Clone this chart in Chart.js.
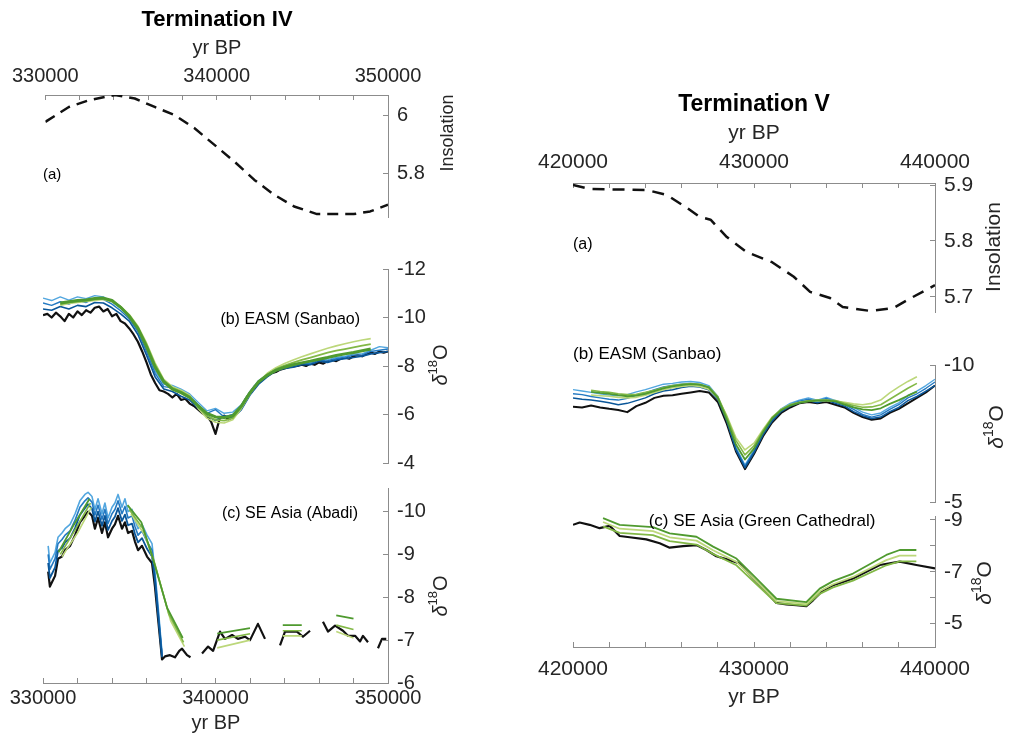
<!DOCTYPE html>
<html>
<head>
<meta charset="utf-8">
<title>Termination IV and V</title>
<script src="https://cdn.jsdelivr.net/npm/chart.js@4.4.1/dist/chart.umd.min.js"></script>
<style>
  html, body { margin: 0; padding: 0; background: #ffffff; }
  #wrap { position: relative; width: 1013px; height: 744px; overflow: hidden; background: #ffffff; }
  #wrap canvas { position: absolute; left: 0; top: 0; }
</style>
</head>
<body>
<div id="wrap">
  <canvas id="t4a" width="1013" height="744"></canvas>
  <canvas id="t4b" width="1013" height="744"></canvas>
  <canvas id="t4c" width="1013" height="744"></canvas>
  <canvas id="t5a" width="1013" height="744"></canvas>
  <canvas id="t5b" width="1013" height="744"></canvas>
  <canvas id="t5c" width="1013" height="744"></canvas>
</div>
<script>
// ---------------- Termination IV (330-350 kyr BP) ----------------
const t4InsolYears = [330000, 331370, 332530, 334060, 335220, 336380, 337550, 338710, 339870, 341030, 342200, 343360, 344520, 345860, 347990, 348960, 350000];
const t4Insol      = [5.977, 6.028, 6.051, 6.069, 6.057, 6.028, 6.0, 5.955, 5.898, 5.841, 5.778, 5.727, 5.687, 5.661, 5.661, 5.670, 5.693];

const t4Years = [330000, 330500, 331000, 331500, 332000, 332500, 333000, 333500, 334000, 334500,
                 335000, 335500, 336000, 336500, 337000, 337500, 338000, 338500, 339000, 339500,
                 340000, 340500, 341000, 341500, 342000, 342500, 343000, 343500, 344000, 344500,
                 345000, 345500, 346000, 346500, 347000, 347500, 348000, 348500, 349000, 349500, 350000];

const t4SanbaoObsYears = [330000, 330250, 330500, 330750, 331000, 331250, 331500, 331750, 332000, 332250,
                          332500, 332750, 333000, 333250, 333500, 333750, 334000, 334250, 334500, 334750,
                          335000, 335250, 335500, 335750, 336000, 336250, 336500, 336750, 337000, 337250,
                          337500, 337750, 338000, 338250, 338500, 338750, 339000, 339250, 339500, 339750,
                          340000, 340250, 340500, 340750, 341000, 341250, 341500, 341750, 342000, 342250,
                          342500, 342750, 343000, 343250, 343500, 343750, 344000, 344250, 344500, 344750,
                          345000, 345250, 345500, 345750, 346000, 346250, 346500, 346750, 347000, 347250,
                          347500, 347750, 348000, 348250, 348500, 348750, 349000, 349250, 349500, 349750, 350000];
const t4SanbaoObs = [-10.1, -10.15, -10.0, -10.2, -10.05, -9.85, -10.15, -10.0, -10.25, -10.1,
                     -10.3, -10.2, -10.4, -10.45, -10.25, -10.35, -10.05, -10.15, -9.85, -9.75,
                     -9.55, -9.3, -9.0, -8.6, -8.15, -7.65, -7.3, -7.0, -6.95, -6.85,
                     -6.7, -6.85, -6.6, -6.65, -6.45, -6.35, -6.2, -6.05, -5.95, -5.7,
                     -5.2, -5.85, -5.95, -5.8, -5.9, -6.1, -6.35, -6.65, -6.9, -7.15,
                     -7.3, -7.5, -7.6, -7.7, -7.75, -7.85, -7.9, -7.95, -7.98, -8.0,
                     -8.05, -8.0, -8.1, -8.05, -8.15, -8.1, -8.2, -8.25, -8.2, -8.3,
                     -8.35, -8.3, -8.4, -8.45, -8.4, -8.5, -8.55, -8.5, -8.6, -8.55, -8.6];

const t4SanbaoBlue1 = [-10.35, -10.3, -10.45, -10.35, -10.5, -10.45, -10.62, -10.6, -10.4, -10.15,
                       -9.85, -9.3, -8.45, -7.55, -7.05, -6.95, -6.75, -6.6, -6.25, -5.95,
                       -5.75, -5.95, -5.85, -6.2, -6.8, -7.25, -7.55, -7.8, -7.9, -7.95,
                       -8.05, -8.05, -8.2, -8.15, -8.25, -8.3, -8.35, -8.4, -8.5, -8.55, -8.6];
const t4SanbaoBlue2 = [-10.6, -10.5, -10.65, -10.55, -10.7, -10.62, -10.78, -10.75, -10.55, -10.28,
                       -9.95, -9.42, -8.6, -7.7, -7.15, -7.1, -6.95, -6.75, -6.4, -6.05,
                       -6.2, -5.9, -6.0, -6.35, -6.9, -7.35, -7.6, -7.85, -7.95, -8.0,
                       -8.1, -8.1, -8.25, -8.2, -8.3, -8.35, -8.45, -8.45, -8.6, -8.65, -8.7];
const t4SanbaoBlue3 = [-10.8, -10.7, -10.85, -10.72, -10.85, -10.78, -10.9, -10.85, -10.65, -10.38,
                       -10.02, -9.5, -8.7, -7.8, -7.25, -7.2, -7.05, -6.85, -6.5, -6.15,
                       -6.25, -6.05, -6.1, -6.4, -6.95, -7.4, -7.65, -7.9, -7.98, -8.05,
                       -8.12, -8.15, -8.3, -8.25, -8.35, -8.4, -8.5, -8.5, -8.65, -8.8, -8.75];

const t4SanbaoGreen1 = [null, null, -10.6, -10.65, -10.7, -10.72, -10.78, -10.8, -10.7, -10.42,
                        -10.05, -9.55, -8.8, -7.95, -7.35, -7.05, -6.9, -6.7, -6.35, -6.05,
                        -5.9, -5.88, -5.95, -6.35, -6.9, -7.35, -7.62, -7.82, -7.95, -8.05,
                        -8.13, -8.2, -8.28, -8.35, -8.43, -8.5, -8.56, -8.63, -8.7, null, null];
const t4SanbaoGreen2 = [null, null, -10.55, -10.62, -10.66, -10.7, -10.75, -10.78, -10.68, -10.45,
                        -10.1, -9.6, -8.9, -8.05, -7.4, -7.1, -6.95, -6.75, -6.3, -5.95,
                        -5.78, -5.75, -5.85, -6.3, -6.88, -7.35, -7.65, -7.87, -8.02, -8.14,
                        -8.25, -8.35, -8.45, -8.55, -8.63, -8.7, -8.77, -8.84, -8.9, null, null];
const t4SanbaoGreen3 = [null, null, -10.5, -10.58, -10.62, -10.66, -10.7, -10.74, -10.65, -10.45,
                        -10.12, -9.65, -8.95, -8.12, -7.45, -7.15, -7.0, -6.8, -6.25, -5.85,
                        -5.68, -5.65, -5.78, -6.25, -6.85, -7.35, -7.7, -7.93, -8.1, -8.25,
                        -8.38, -8.5, -8.62, -8.73, -8.83, -8.92, -9.0, -9.07, -9.13, null, null];

const t4AbadiObsYears = [330300, 330400, 330700, 330870, 331100, 331280, 331570, 331860, 332140, 332430,
                         332610, 332840, 333010, 333190, 333420, 333590, 333770, 334000, 334170, 334350,
                         334580, 334750, 334930, 335160, 335330, 335510, 335740, 336030, 336320, 336490,
                         336670, 336900, 337070, 337360, 337650, 337900, 338060, 338350, 338550, 338900,
                         339220, 339570, 339860, 340260, 340550, 340960, 341300, 341710, 342000, 342460, 342870, 343300,
                         343740, 344030, 344720, 345070, 345480, 345850,
                         346230, 346520, 346930, 347390, 347680, 348090, 348380, 348550, 348840, 349100,
                         349420, 349650, 349900];
const t4AbadiObs = [-8.6, -8.25, -8.5, -8.9, -8.95, -9.1, -9.2, -9.45, -9.75, -9.9,
                    -10.0, -9.9, -9.6, -9.85, -9.5, -9.75, -9.4, -9.6, -9.7, -9.9,
                    -9.6, -9.75, -9.5, -9.55, -9.3, -9.1, -9.2, -8.95, -8.8, -8.25,
                    -7.5, -6.55, -6.62, -6.65, -6.6, -6.75, -6.8, -6.65, -6.6, null,
                    -6.69, -6.85, -6.75, -7.2, -7.03, -7.12, -7.03, -7.08, -7.0, -7.38, -7.03, null,
                    -6.88, -7.2, -7.2, -7.08, -7.22, null,
                    -7.43, -7.2, -7.34, -7.22, -7.1, -7.1, -6.97, -7.1, -6.95, null,
                    -6.81, -7.03, -7.03];

const t4AbadiBlueYears = [330300, 330400, 330700, 330870, 331100, 331280, 331570, 331860, 332140, 332430,
                          332610, 332840, 333010, 333190, 333420, 333590, 333770, 334000, 334170, 334350,
                          334580, 334750, 334930, 335160, 335330, 335510, 335740, 336030, 336320, 336490,
                          336670, 336900];
const t4AbadiBlue1 = [-8.8, -8.45, -8.7, -9.08, -9.15, -9.28, -9.38, -9.62, -9.92, -10.08,
                      -10.17, -10.07, -9.77, -10.0, -9.67, -9.9, -9.57, -9.78, -9.88, -10.08,
                      -9.78, -9.93, -9.68, -9.72, -9.48, -9.28, -9.38, -9.13, -8.95, -8.4, -7.6, -6.6];
const t4AbadiBlue2 = [-9.0, -8.65, -8.9, -9.25, -9.35, -9.45, -9.55, -9.8, -10.1, -10.25,
                      -10.32, -10.22, -9.92, -10.15, -9.82, -10.05, -9.72, -9.95, -10.05, -10.25,
                      -9.95, -10.12, -9.85, -9.9, -9.65, -9.45, -9.55, -9.3, -9.1, -8.5, -7.7, -6.65];
const t4AbadiBlue3 = [-9.2, -8.8, -9.05, -9.4, -9.5, -9.6, -9.7, -9.95, -10.25, -10.4,
                      -10.45, -10.35, -10.05, -10.3, -9.95, -10.2, -9.85, -10.1, -10.2, -10.4,
                      -10.1, -10.3, -10.0, -10.05, -9.8, -9.6, -9.7, -9.45, -9.25, -8.6, -7.8, -6.7];

const t4AbadiGreen1Years = [330900, 331800, 332700, 333000, 334900, 335700, 336300, 337200, 338100, 339000,
                            340100, 342000, 343000, 343900, 345000, 346000, 347000, 348000];
const t4AbadiGreen1 = [-9.05, -9.7, -10.3, null, -10.15, -9.75, -9.0, -7.75, -7.05, null,
                       -7.15, -7.28, null, -7.35, -7.35, null, -7.58, -7.5];
const t4AbadiGreen2Years = [331000, 331900, 332750, 333000, 335000, 335800, 336400, 337300, 338150, 339000,
                            340100, 342000, 343000, 343900, 345000, 346000, 347000, 348000];
const t4AbadiGreen2 = [-9.0, -9.6, -10.2, null, -10.05, -9.6, -8.9, -7.6, -6.95, null,
                       -7.0, -7.15, null, -7.22, -7.22, null, -7.35, -7.25];
const t4AbadiGreen3Years = [331100, 332000, 332800, 333000, 335100, 335900, 336500, 337400, 338200, 339000,
                            340100, 342000, 343000, 343900, 345000, 346000, 347000, 348000];
const t4AbadiGreen3 = [-8.95, -9.5, -10.1, null, -9.95, -9.45, -8.75, -7.45, -6.85, null,
                       -6.82, -7.0, null, -7.1, -7.1, null, -7.2, -7.05];

// ---------------- Termination V (420-440 kyr BP) ----------------
const t5InsolYears = [420000, 420900, 424100, 425200, 426300, 427000, 427600, 428500, 429600, 431000,
                      432200, 433100, 434200, 434900, 436400, 437700, 438500, 440000];
const t5Insol      = [5.9, 5.893, 5.891, 5.882, 5.859, 5.843, 5.838, 5.807, 5.78, 5.762,
                      5.736, 5.709, 5.698, 5.682, 5.675, 5.68, 5.695, 5.721];

const t5Years = [420000, 420500, 421000, 421500, 422000, 422500, 423000, 423500, 424000, 424500,
                 425000, 425500, 426000, 426500, 427000, 427500, 428000, 428500, 429000, 429500,
                 430000, 430500, 431000, 431500, 432000, 432500, 433000, 433500, 434000, 434500,
                 435000, 435500, 436000, 436500, 437000, 437500, 438000, 438500, 439000, 439500, 440000];

const t5SanbaoObs = [-8.48, -8.45, -8.52, -8.45, -8.4, -8.36, -8.28, -8.5, -8.62, -8.8,
                     -8.88, -8.9, -8.95, -9.0, -9.05, -9.0, -8.65, -7.85, -6.85, -6.2,
                     -6.75, -7.4, -7.9, -8.25, -8.45, -8.6, -8.65, -8.6, -8.65, -8.55,
                     -8.45, -8.25, -8.1, -8.0, -8.05, -8.25, -8.4, -8.6, -8.8, -9.0, -9.25];
const t5SanbaoBlue1 = [-8.8, -8.75, -8.72, -8.68, -8.62, -8.55, -8.6, -8.7, -8.8, -8.95,
                       -9.05, -9.1, -9.18, -9.22, -9.2, -9.1, -8.75, -7.95, -6.9, -6.25,
                       -6.8, -7.45, -7.95, -8.3, -8.5, -8.62, -8.7, -8.62, -8.72, -8.6,
                       -8.5, -8.3, -8.15, -8.05, -8.1, -8.3, -8.45, -8.7, -8.85, -9.05, -9.25];
const t5SanbaoBlue2 = [-8.95, -8.92, -8.85, -8.8, -8.75, -8.72, -8.78, -8.9, -8.98, -9.1,
                       -9.2, -9.25, -9.3, -9.32, -9.28, -9.18, -8.8, -8.0, -6.95, -6.3,
                       -6.85, -7.5, -8.0, -8.35, -8.55, -8.68, -8.75, -8.68, -8.78, -8.65,
                       -8.55, -8.38, -8.2, -8.1, -8.18, -8.38, -8.55, -8.8, -8.95, -9.15, -9.38];
const t5SanbaoBlue3 = [-9.1, -9.05, -9.0, -8.95, -8.9, -8.88, -8.92, -9.02, -9.1, -9.2,
                       -9.3, -9.33, -9.38, -9.4, -9.36, -9.25, -8.85, -8.05, -7.0, -6.35,
                       -6.9, -7.55, -8.05, -8.4, -8.6, -8.72, -8.8, -8.72, -8.82, -8.7,
                       -8.6, -8.45, -8.28, -8.18, -8.25, -8.45, -8.62, -8.88, -9.05, -9.25, -9.48];
const t5SanbaoGreen1 = [null, null, -9.02, -8.98, -8.95, -8.9, -8.86, -8.88, -8.95, -9.05,
                        -9.15, -9.22, -9.27, -9.3, -9.28, -9.18, -8.8, -8.0, -7.1, -6.55,
                        -6.95, -7.55, -8.05, -8.35, -8.52, -8.62, -8.67, -8.7, -8.7, -8.67,
                        -8.55, -8.45, -8.38, -8.35, -8.42, -8.58, -8.72, -8.88, -9.03, null, null];
const t5SanbaoGreen2 = [null, null, -9.08, -9.03, -9.0, -8.95, -8.92, -8.93, -9.0, -9.08,
                        -9.18, -9.25, -9.3, -9.32, -9.3, -9.2, -8.85, -8.1, -7.25, -6.72,
                        -7.05, -7.6, -8.08, -8.38, -8.55, -8.64, -8.69, -8.72, -8.72, -8.7,
                        -8.6, -8.52, -8.46, -8.47, -8.55, -8.75, -8.95, -9.15, -9.33, null, null];
const t5SanbaoGreen3 = [null, null, -8.9, -8.88, -8.86, -8.82, -8.8, -8.82, -8.9, -9.0,
                        -9.1, -9.17, -9.22, -9.25, -9.22, -9.12, -8.8, -8.15, -7.35, -6.9,
                        -7.15, -7.65, -8.1, -8.38, -8.55, -8.63, -8.68, -8.7, -8.7, -8.68,
                        -8.64, -8.58, -8.55, -8.6, -8.72, -8.98, -9.2, -9.4, -9.57, null, null];

const t5CathedralObsYears = [420000, 420370, 420920, 421470, 422030, 422580, 423130, 424050, 424790, 425340,
                             426080, 426820, 427370, 427920, 428660, 429210, 429950, 430680, 431240, 431790,
                             432340, 432890, 433260, 433820, 434370, 434920, 435470, 436210, 436950, 438050,
                             438970, 440000];
const t5CathedralObs = [-8.81, -8.9, -8.81, -8.68, -8.77, -8.38, -8.33, -8.25, -8.1, -7.93,
                        -7.99, -8.03, -7.84, -7.6, -7.45, -7.32, -6.74, -6.22, -5.8, -5.74,
                        -5.71, -5.67, -5.9, -6.29, -6.48, -6.61, -6.74, -7.0, -7.26, -7.39,
                        -7.26, -7.13];
const t5CathedralModelYears = [421660, 422580, 424420, 425340, 426820, 427740, 429030, 429950,
                               431240, 432890, 433630, 434370, 435470, 437310, 438050, 438970];
const t5CathedralGreen1 = [-9.07, -8.81, -8.72, -8.48, -8.35, -7.97, -7.51, -6.87,
                           -5.96, -5.83, -6.35, -6.64, -6.93, -7.65, -7.84, -7.84];
const t5CathedralGreen2 = [-8.92, -8.66, -8.57, -8.33, -8.2, -7.83, -7.38, -6.76,
                           -5.87, -5.76, -6.25, -6.52, -6.8, -7.45, -7.62, -7.62];
const t5CathedralGreen3 = [-8.75, -8.5, -8.41, -8.18, -8.05, -7.69, -7.25, -6.64,
                           -5.79, -5.7, -6.15, -6.4, -6.66, -7.25, -7.4, -7.4];

// ---------------- styling ----------------
const FONT = "'Liberation Sans', Arial, Helvetica, sans-serif";
const INK = '#262626';
const AXIS = '#8c8c8c';
const BLACK = '#111111';
const BLUES = ['#0a5699', '#2379c2', '#52a6df'];
const GREENS = ['#4f9a2f', '#82b846', '#bcd77a'];

function line(years, values, color, width, extra) {
  return Object.assign({
    data: years.map((x, i) => ({ x: x, y: values[i] })),
    borderColor: color,
    borderWidth: width,
    pointRadius: 0,
    fill: false,
    spanGaps: false,
    tension: 0,
    borderJoinStyle: 'round'
  }, extra || {});
}

// tidy a tick value (removes floating-point tails such as 5.800000000000001)
function tickText(v) {
  return String(Math.round(v * 1000) / 1000);
}

// x axis with labelled ticks every 10 kyr and inward minor ticks every 2 kyr
function xAxis(min, max, position, size, pad) {
  if (!position) return { type: 'linear', min: min, max: max, display: false };
  return {
    type: 'linear', position: position, min: min, max: max,
    grid: { drawOnChartArea: false, drawTicks: true, tickLength: -5, color: AXIS, lineWidth: 1 },
    border: { display: true, color: AXIS, width: 1 },
    ticks: {
      stepSize: 2000, autoSkip: false, maxRotation: 0, minRotation: 0, padding: pad,
      color: INK, font: { family: FONT, size: size },
      callback: v => (Math.round(v) % 10000 === 0 ? String(Math.round(v)) : '')
    },
    afterFit: s => { s.height = 30; }
  };
}

function yAxis(min, max, step, reverse, size, show) {
  return {
    type: 'linear', position: 'right', min: min, max: max, reverse: reverse,
    grid: { drawOnChartArea: false, drawTicks: true, tickLength: -5, color: AXIS, lineWidth: 1 },
    border: { display: true, color: AXIS, width: 1 },
    ticks: {
      stepSize: step, includeBounds: false, padding: 14, autoSkip: false,
      color: INK, font: { family: FONT, size: size },
      callback: v => (show && !show(Math.round(v * 1000) / 1000) ? '' : tickText(v))
    },
    afterFit: s => { s.width = 60; }
  };
}

// free text drawn on the canvas: titles, panel tags, rotated axis names
function textLayer(items) {
  return {
    id: 'textLayer',
    afterDraw(chart) {
      const ctx = chart.ctx;
      for (const it of items) {
        ctx.save();
        ctx.translate(it.x, it.y);
        if (it.rot) ctx.rotate(it.rot);
        ctx.fillStyle = it.color || INK;
        ctx.textBaseline = 'middle';
        if (it.parts) {
          let total = 0;
          for (const p of it.parts) { ctx.font = p.font; total += ctx.measureText(p.text).width; }
          let cx = -total / 2;
          ctx.textAlign = 'left';
          for (const p of it.parts) {
            ctx.font = p.font;
            ctx.fillText(p.text, cx, p.dy || 0);
            cx += ctx.measureText(p.text).width;
          }
        } else {
          ctx.font = it.font;
          ctx.textAlign = it.align || 'center';
          ctx.fillText(it.text, 0, 0);
        }
        ctx.restore();
      }
    }
  };
}

function deltaLabel(x, y, size) {
  return { x: x, y: y, rot: -Math.PI / 2, parts: [
    { text: 'δ', font: 'italic ' + size + 'px ' + FONT },
    { text: '18', font: Math.round(size * 0.66) + 'px ' + FONT, dy: -size * 0.36 },
    { text: 'O', font: size + 'px ' + FONT }
  ] };
}

function panel(id, padding, scales, datasets, items) {
  return new Chart(document.getElementById(id), {
    type: 'line',
    data: { datasets: datasets },
    options: {
      responsive: false, animation: false, events: [], devicePixelRatio: 1,
      layout: { padding: padding },
      plugins: { legend: { display: false }, tooltip: { enabled: false } },
      scales: scales
    },
    plugins: [textLayer(items)]
  });
}

// ---------------- Termination IV ----------------
panel('t4a', { left: 43, right: 565, top: 65, bottom: 527 }, {
  x: xAxis(330000, 350000, 'top', 20, 12),
  y: yAxis(5.651, 6.069, 0.2, false, 20)
}, [
  line(t4InsolYears, t4Insol, BLACK, 2.5, { borderDash: [11, 7], borderCapStyle: 'butt' })
], [
  { text: 'Termination IV', x: 217, y: 20, font: 'bold 22px ' + FONT, color: '#000' },
  { text: 'yr BP', x: 217, y: 48, font: '20px ' + FONT },
  { text: '(a)', x: 43, y: 175, font: '15px ' + FONT, align: 'left', color: '#000' },
  { text: 'Insolation', x: 448, y: 133, font: '18px ' + FONT, rot: -Math.PI / 2 }
]);

panel('t4b', { left: 43, right: 565, top: 269, bottom: 281 }, {
  x: xAxis(330000, 350000, null),
  y: yAxis(-12, -4, 2, true, 20)
}, [
  line(t4Years, t4SanbaoGreen1, GREENS[0], 3),
  line(t4Years, t4SanbaoGreen2, GREENS[1], 1.8),
  line(t4Years, t4SanbaoGreen3, GREENS[2], 1.6),
  line(t4Years, t4SanbaoBlue1, BLUES[0], 1.6),
  line(t4Years, t4SanbaoBlue2, BLUES[1], 1.4),
  line(t4Years, t4SanbaoBlue3, BLUES[2], 1.4),
  line(t4SanbaoObsYears, t4SanbaoObs, BLACK, 2.2)
], [
  { text: '(b) EASM (Sanbao)', x: 360, y: 320, font: '16px ' + FONT, align: 'right', color: '#000' },
  deltaLabel(441, 365, 20)
]);

panel('t4c', { left: 43, right: 565, top: 488, bottom: 31 }, {
  x: xAxis(330000, 350000, 'bottom', 20, 8),
  y: yAxis(-10.55, -6, 1, true, 20)
}, [
  line(t4AbadiGreen1Years, t4AbadiGreen1, GREENS[0], 1.8),
  line(t4AbadiGreen2Years, t4AbadiGreen2, GREENS[1], 1.6),
  line(t4AbadiGreen3Years, t4AbadiGreen3, GREENS[2], 1.6),
  line(t4AbadiBlueYears, t4AbadiBlue1, BLUES[0], 1.8),
  line(t4AbadiBlueYears, t4AbadiBlue2, BLUES[1], 1.6),
  line(t4AbadiBlueYears, t4AbadiBlue3, BLUES[2], 1.6),
  line(t4AbadiObsYears, t4AbadiObs, BLACK, 2.2)
], [
  { text: '(c) SE Asia (Abadi)', x: 358, y: 514, font: '16px ' + FONT, align: 'right', color: '#000' },
  { text: 'yr BP', x: 216, y: 723, font: '20px ' + FONT },
  deltaLabel(441, 596, 20)
]);

// ---------------- Termination V ----------------
panel('t5a', { left: 573, right: 18, top: 153, bottom: 432 }, {
  x: xAxis(420000, 440000, 'top', 21, 13),
  y: yAxis(5.673, 5.9036, 0.1, false, 21)
}, [
  line(t5InsolYears, t5Insol, BLACK, 2.5, { borderDash: [12, 8], borderCapStyle: 'butt' })
], [
  { text: 'Termination V', x: 754, y: 105, font: 'bold 23px ' + FONT, color: '#000' },
  { text: 'yr BP', x: 754, y: 133, font: '21px ' + FONT },
  { text: '(a)', x: 573, y: 245, font: '16px ' + FONT, align: 'left', color: '#000' },
  { text: 'Insolation', x: 994, y: 247, font: '21px ' + FONT, rot: -Math.PI / 2 }
]);

panel('t5b', { left: 573, right: 18, top: 365, bottom: 242 }, {
  x: xAxis(420000, 440000, null),
  y: yAxis(-10, -5, 5, true, 21)
}, [
  line(t5Years, t5SanbaoGreen1, GREENS[0], 1.8),
  line(t5Years, t5SanbaoGreen2, GREENS[1], 1.6),
  line(t5Years, t5SanbaoGreen3, GREENS[2], 1.6),
  line(t5Years, t5SanbaoBlue1, BLUES[0], 1.5),
  line(t5Years, t5SanbaoBlue2, BLUES[1], 1.4),
  line(t5Years, t5SanbaoBlue3, BLUES[2], 1.4),
  line(t5Years, t5SanbaoObs, BLACK, 2)
], [
  { text: '(b) EASM (Sanbao)', x: 573, y: 354, font: '17px ' + FONT, align: 'left', color: '#000' },
  deltaLabel(997, 427, 21)
]);

panel('t5c', { left: 573, right: 18, top: 516, bottom: 67 }, {
  x: xAxis(420000, 440000, 'bottom', 21, 15),
  y: yAxis(-9.15, -4.1, 1, true, 21, v => Math.abs(v) % 2 === 1)
}, [
  line(t5CathedralModelYears, t5CathedralGreen1, GREENS[0], 1.8),
  line(t5CathedralModelYears, t5CathedralGreen2, GREENS[2], 1.8),
  line(t5CathedralModelYears, t5CathedralGreen3, GREENS[1], 1.8),
  line(t5CathedralObsYears, t5CathedralObs, BLACK, 2.2)
], [
  { text: '(c) SE Asia (Green Cathedral)', x: 762, y: 521, font: '17px ' + FONT, color: '#000' },
  { text: 'yr BP', x: 754, y: 697, font: '21px ' + FONT },
  deltaLabel(985, 583, 21)
]);
</script>
</body>
</html>
